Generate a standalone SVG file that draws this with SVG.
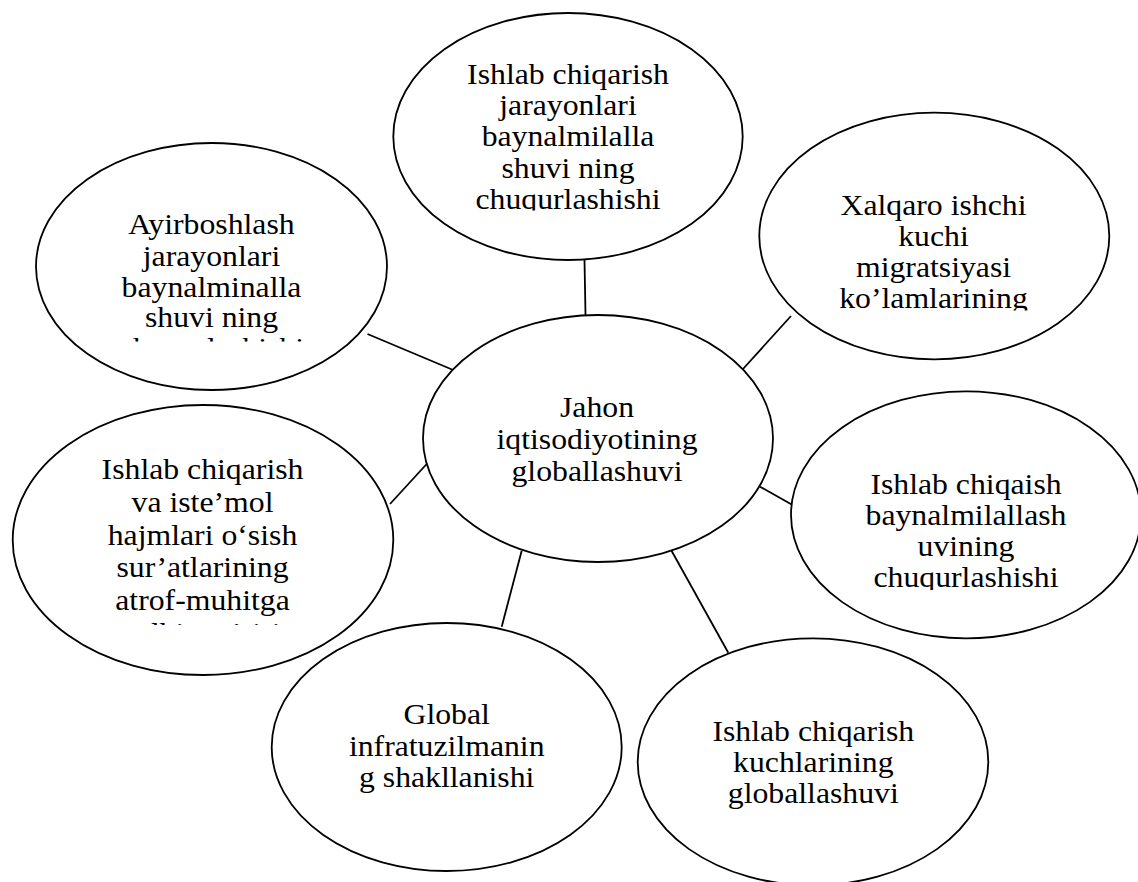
<svg xmlns="http://www.w3.org/2000/svg" width="1138" height="882" viewBox="0 0 1138 882">
<style>
.node ellipse{fill:#fff;stroke:#000;stroke-width:1.8}
.conn line{stroke:#000;stroke-width:1.8}
text{font-family:"Liberation Serif","Times New Roman",serif;font-size:28.6px;fill:#000;text-anchor:middle}
</style>
<defs>
<clipPath id="cTop" clipPathUnits="userSpaceOnUse"><rect x="380" y="0" width="380" height="210.5"/></clipPath>
<clipPath id="cTL" clipPathUnits="userSpaceOnUse"><rect x="20" y="130" width="380" height="211.5"/></clipPath>
<clipPath id="cRT" clipPathUnits="userSpaceOnUse"><rect x="750" y="100" width="380" height="210.5"/></clipPath>
<clipPath id="cR" clipPathUnits="userSpaceOnUse"><rect x="780" y="380" width="358" height="210"/></clipPath>
<clipPath id="cL" clipPathUnits="userSpaceOnUse"><rect x="0" y="390" width="400" height="235"/></clipPath>
</defs>
<rect width="1138" height="882" fill="#fff"/>
<g id="connectors" class="conn">
<line x1="584.5" y1="260" x2="585.5" y2="315"/>
<line x1="367.5" y1="334" x2="452" y2="369.5"/>
<line x1="791" y1="316" x2="743" y2="369"/>
<line x1="760" y1="486.7" x2="791.7" y2="504.5"/>
<line x1="390" y1="504" x2="426.7" y2="464"/>
<line x1="521.7" y1="550.7" x2="501.7" y2="626.7"/>
<line x1="670.7" y1="549.3" x2="728.3" y2="652.7"/>
</g>
<g id="node-top" class="node">
<ellipse cx="568" cy="136.5" rx="174.7" ry="123.5"/>
<g clip-path="url(#cTop)"><g transform="translate(568 0) scale(1.11 1)">
<text x="0" y="84">Ishlab chiqarish</text>
<text x="0" y="115.5">jarayonlari</text>
<text x="0" y="146.5">baynalmilalla</text>
<text x="0" y="178">shuvi ning</text>
<text x="0" y="209">chuqurlashishi</text>
</g></g>
</g>
<g id="node-topleft" class="node">
<ellipse cx="211.5" cy="266.5" rx="175.5" ry="123.5"/>
<g clip-path="url(#cTL)"><g transform="translate(211.5 0) scale(1.11 1)">
<text x="0" y="234">Ayirboshlash</text>
<text x="0" y="266.5">jarayonlari</text>
<text x="0" y="297.5">baynalminalla</text>
<text x="0" y="327.5">shuvi ning</text>
<text x="0" y="358.5">chuqurlashishi</text>
</g></g>
</g>
<g id="node-topright" class="node">
<ellipse cx="934.3" cy="236" rx="175" ry="123.3"/>
<g clip-path="url(#cRT)"><g transform="translate(933.5 0) scale(1.11 1)">
<text x="0" y="215">Xalqaro ishchi</text>
<text x="0" y="246">kuchi</text>
<text x="0" y="277.5">migratsiyasi</text>
<text x="0" y="308.5">ko’lamlarining</text>
</g></g>
</g>
<g id="node-center" class="node">
<ellipse cx="598" cy="438.5" rx="175" ry="123.5"/>
<g transform="translate(597 0) scale(1.11 1)">
<text x="0" y="417">Jahon</text>
<text x="0" y="449">iqtisodiyotining</text>
<text x="0" y="481">globallashuvi</text>
</g>
</g>
<g id="node-right" class="node">
<ellipse cx="966" cy="514.8" rx="175" ry="123.5"/>
<g clip-path="url(#cR)"><g transform="translate(966 0) scale(1.11 1)">
<text x="0" y="494">Ishlab chiqaish</text>
<text x="0" y="525">baynalmilallash</text>
<text x="0" y="556">uvining</text>
<text x="0" y="587">chuqurlashishi</text>
</g></g>
</g>
<g id="node-left" class="node">
<ellipse cx="203" cy="540" rx="190.3" ry="135"/>
<g clip-path="url(#cL)"><g transform="translate(202.5 0) scale(1.11 1)">
<text x="0" y="479">Ishlab chiqarish</text>
<text x="0" y="512">va iste’mol</text>
<text x="0" y="545">hajmlari o‘sish</text>
<text x="0" y="577.5">sur’atlarining</text>
<text x="0" y="610.5">atrof-muhitga</text>
<text x="0" y="643.5">salbiy ta’siri</text>
</g></g>
</g>
<g id="node-bottomleft" class="node">
<ellipse cx="446.7" cy="747" rx="175" ry="124"/>
<g transform="translate(446.7 0) scale(1.11 1)">
<text x="0" y="724">Global</text>
<text x="0" y="756">infratuzilmanin</text>
<text x="0" y="787.5">g shakllanishi</text>
</g>
</g>
<g id="node-bottomright" class="node">
<ellipse cx="813" cy="761.8" rx="175.3" ry="123.5"/>
<g transform="translate(813.3 0) scale(1.11 1)">
<text x="0" y="741">Ishlab chiqarish</text>
<text x="0" y="772">kuchlarining</text>
<text x="0" y="803">globallashuvi</text>
</g>
</g>
</svg>
